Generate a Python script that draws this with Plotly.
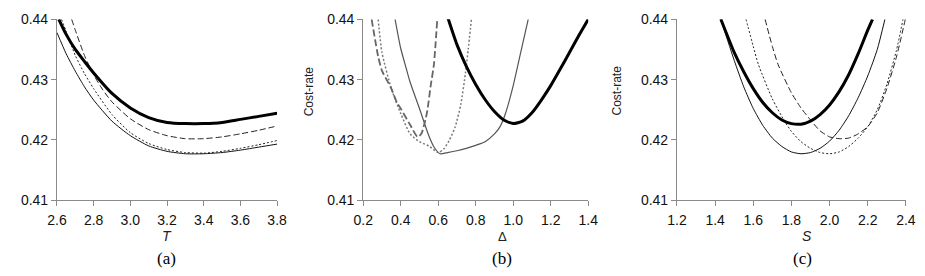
import plotly.graph_objects as go

# ---------------- data ----------------
# panel (a): Cost-rate vs T
a_thick_x = [2.61, 2.65, 2.7, 2.75, 2.8, 2.9, 3.0, 3.1, 3.2, 3.3, 3.4, 3.5, 3.6, 3.7, 3.8]
a_thick_y = [0.4400, 0.4375, 0.4350, 0.4330, 0.4311, 0.4277, 0.4253, 0.4237, 0.4229, 0.4227, 0.4227, 0.4229, 0.4234, 0.4239, 0.4244]
a_dash_x = [2.68, 2.7, 2.75, 2.8, 2.85, 2.9, 3.0, 3.1, 3.2, 3.3, 3.4, 3.5, 3.6, 3.7, 3.8]
a_dash_y = [0.4400, 0.4382, 0.4340, 0.4308, 0.4283, 0.4263, 0.4235, 0.4217, 0.4207, 0.4202, 0.4202, 0.4205, 0.4210, 0.4216, 0.4223]
a_dot_x = [2.625, 2.65, 2.7, 2.75, 2.8, 2.9, 3.0, 3.1, 3.2, 3.3, 3.4, 3.5, 3.6, 3.7, 3.8]
a_dot_y = [0.4400, 0.4380, 0.4340, 0.4310, 0.4285, 0.4242, 0.4212, 0.4194, 0.4184, 0.4179, 0.4178, 0.4181, 0.4186, 0.4192, 0.4199]
a_thin_x = [2.6, 2.65, 2.7, 2.75, 2.8, 2.9, 3.0, 3.1, 3.2, 3.3, 3.4, 3.5, 3.6, 3.7, 3.8]
a_thin_y = [0.4378, 0.4343, 0.4314, 0.4288, 0.4266, 0.4231, 0.4207, 0.4190, 0.4181, 0.4177, 0.4177, 0.4179, 0.4183, 0.4188, 0.4193]

# panel (b): Cost-rate vs Delta
b_thick_x = [0.65, 0.7, 0.75, 0.8, 0.85, 0.9, 0.95, 1.0, 1.05, 1.1, 1.15, 1.2, 1.25, 1.3, 1.35, 1.4]
b_thick_y = [0.4404, 0.4358, 0.4322, 0.4292, 0.4267, 0.4247, 0.4233, 0.4227, 0.4231, 0.4245, 0.4266, 0.4290, 0.4317, 0.4345, 0.4373, 0.4400]
b_dash_x = [0.245, 0.28, 0.3, 0.35, 0.38, 0.4, 0.45, 0.49, 0.51, 0.54, 0.56, 0.577, 0.595]
b_dash_y = [0.4400, 0.4338, 0.4315, 0.4285, 0.4262, 0.4252, 0.4225, 0.4205, 0.4210, 0.4245, 0.4290, 0.4325, 0.4400]
b_dot_x = [0.28, 0.30, 0.35, 0.40, 0.45, 0.50, 0.55, 0.60, 0.63, 0.66, 0.69, 0.72, 0.745, 0.76, 0.777]
b_dot_y = [0.4400, 0.4345, 0.4285, 0.4244, 0.4210, 0.4197, 0.4190, 0.4179, 0.4185, 0.4200, 0.4221, 0.4258, 0.4310, 0.4350, 0.4400]
b_thin_x = [0.37, 0.40, 0.43, 0.45, 0.50, 0.55, 0.58, 0.61, 0.65, 0.70, 0.75, 0.80, 0.85, 0.90, 0.93, 0.96, 1.00, 1.04, 1.08]
b_thin_y = [0.4400, 0.4352, 0.4318, 0.4296, 0.4252, 0.4207, 0.4187, 0.4177, 0.4179, 0.4182, 0.4186, 0.4191, 0.4197, 0.4210, 0.4222, 0.4245, 0.4290, 0.4345, 0.4400]

# panel (c): Cost-rate vs S
c_thick_x = [1.43, 1.5, 1.55, 1.6, 1.65, 1.7, 1.75, 1.8, 1.85, 1.9, 1.95, 2.0, 2.05, 2.1, 2.15, 2.2, 2.225]
c_thick_y = [0.4400, 0.4345, 0.4313, 0.4285, 0.4262, 0.4245, 0.4233, 0.4227, 0.4226, 0.4231, 0.4242, 0.4258, 0.4280, 0.4308, 0.4343, 0.4382, 0.4400]
c_thin_x = [1.43, 1.5, 1.55, 1.6, 1.65, 1.7, 1.75, 1.8, 1.85, 1.9, 1.95, 2.0, 2.05, 2.1, 2.15, 2.2, 2.25, 2.29]
c_thin_y = [0.4400, 0.4332, 0.4288, 0.4252, 0.4224, 0.4203, 0.4189, 0.4180, 0.4177, 0.4179, 0.4186, 0.4198, 0.4216, 0.4240, 0.4270, 0.4306, 0.4350, 0.4400]
c_dot_x = [1.562, 1.6, 1.627, 1.7, 1.764, 1.8, 1.85, 1.9, 1.95, 2.0, 2.05, 2.1, 2.15, 2.2, 2.25, 2.3, 2.35, 2.385]
c_dot_y = [0.4400, 0.4355, 0.4325, 0.4268, 0.4231, 0.4214, 0.4197, 0.4186, 0.4179, 0.4177, 0.4180, 0.4189, 0.4203, 0.4222, 0.4250, 0.4292, 0.4348, 0.4400]
c_dash_x = [1.662, 1.7, 1.73, 1.8, 1.85, 1.9, 1.95, 2.0, 2.05, 2.1, 2.15, 2.2, 2.25, 2.3, 2.35, 2.397]
c_dash_y = [0.4400, 0.4355, 0.4325, 0.4278, 0.4253, 0.4233, 0.4215, 0.4205, 0.4202, 0.4203, 0.4210, 0.4222, 0.4245, 0.4285, 0.4337, 0.4400]

y_ticks = [0.41, 0.42, 0.43, 0.44]
a_ticks = [2.6, 2.8, 3.0, 3.2, 3.4, 3.6, 3.8]
b_ticks = [0.2, 0.4, 0.6, 0.8, 1.0, 1.2, 1.4]
c_ticks = [1.2, 1.4, 1.6, 1.8, 2.0, 2.2, 2.4]

# ---------------- figure ----------------
W, H = 925, 276
def px(x): return x / W
def py(y): return (H - y) / H

fig = go.Figure()

def add(x, y, ax, color, width, dash):
    fig.add_trace(go.Scatter(x=x, y=y, mode="lines", xaxis="x" + ax, yaxis="y" + ax,
                             line=dict(color=color, width=width, dash=dash, shape="spline", smoothing=0.6),
                             showlegend=False, hoverinfo="skip"))

# panel a
add(a_thin_x, a_thin_y, "", "#111", 1, "solid")
add(a_dot_x, a_dot_y, "", "#222", 1, "2px,2px")
add(a_dash_x, a_dash_y, "", "#222", 1, "6px,3px")
add(a_thick_x, a_thick_y, "", "#000", 3, "solid")
# panel b
add(b_thin_x, b_thin_y, "2", "#555", 1.2, "solid")
add(b_dot_x, b_dot_y, "2", "#7a7a7a", 1.5, "2px,2px")
add(b_dash_x, b_dash_y, "2", "#666", 1.8, "7px,3px")
add(b_thick_x, b_thick_y, "2", "#000", 3, "solid")
# panel c
add(c_thin_x, c_thin_y, "3", "#111", 1, "solid")
add(c_dot_x, c_dot_y, "3", "#222", 1, "2px,2px")
add(c_dash_x, c_dash_y, "3", "#222", 1, "6px,3px")
add(c_thick_x, c_thick_y, "3", "#000", 3, "solid")

tickfont = dict(family="Liberation Sans, Arial, sans-serif", size=14, color="#111")
axcol = "#8a8a8a"
ydom = [py(204), py(12)]

def xax(lo, hi, left, right, ticks, anchor):
    return dict(domain=[px(left), px(right)], range=[lo, hi], tickvals=ticks,
                ticktext=[f"{t:.1f}" for t in ticks], showline=True, linecolor=axcol,
                linewidth=1, ticks="outside", ticklen=5, tickcolor=axcol, showgrid=False,
                zeroline=False, tickfont=tickfont, anchor=anchor, ticklabelstandoff=2)

def yax(anchor):
    return dict(domain=ydom, range=[0.41, 0.44], tickvals=y_ticks,
                ticktext=[f"{t:.2f}" for t in y_ticks], showline=True, linecolor=axcol,
                linewidth=1, ticks="outside", ticklen=5, tickcolor=axcol, showgrid=False,
                zeroline=False, tickfont=tickfont, anchor=anchor)

fig.update_layout(
    width=W, height=H, margin=dict(l=0, r=0, t=0, b=0),
    paper_bgcolor="white", plot_bgcolor="white",
    xaxis=xax(2.6, 3.8, 48, 273, a_ticks, "y"),
    yaxis=yax("x"),
    xaxis2=xax(0.2, 1.4, 361, 591, b_ticks, "y2"),
    yaxis2=yax("x2"),
    xaxis3=xax(1.2, 2.4, 681.7, 915.7, c_ticks, "y3"),
    yaxis3=yax("x3"),
)

ann = []
def label(text, x, y, size, family, angle=0, color="#222"):
    ann.append(dict(text=text, x=px(x), y=py(y), xref="paper", yref="paper",
                    showarrow=False, textangle=angle, xanchor="center", yanchor="middle",
                    font=dict(family=family, size=size, color=color)))

sans = "Liberation Sans, Arial, sans-serif"
serif = "Liberation Serif, Times New Roman, serif"
label("<i>T</i>", 160, 242, 14, sans)
label("Δ", 503, 243, 13, sans)
label("<i>S</i>", 815, 242, 14, sans)
label("(a)", 160, 266, 17, serif, color="#000")
label("(b)", 503, 266, 17, serif, color="#000")
label("(c)", 810, 266, 17, serif, color="#000")
label("Cost-rate", 305, 88, 12, sans, angle=-90)
label("Cost-rate", 620, 88, 12, sans, angle=-90)
fig.update_layout(annotations=ann)

fig.write_html("out.html")
